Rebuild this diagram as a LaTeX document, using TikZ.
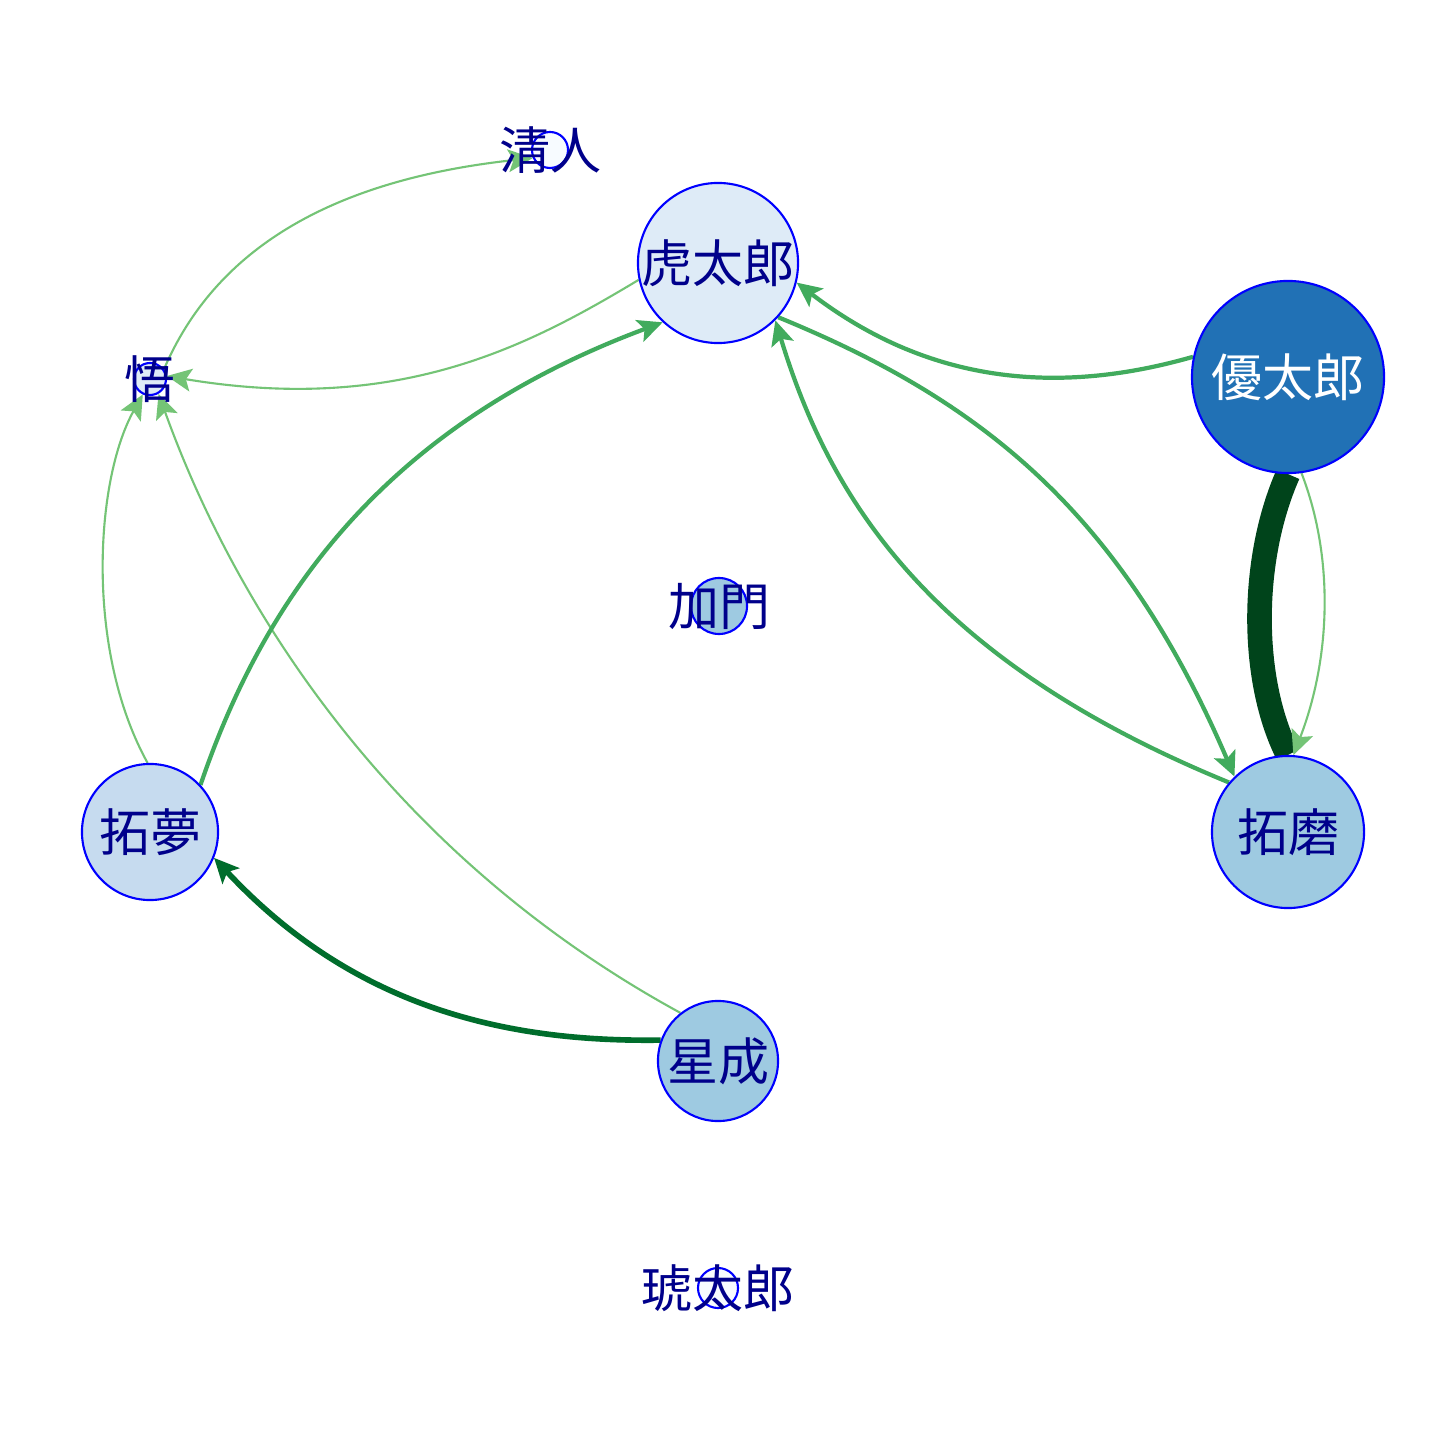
\documentclass[tikz,border=0pt]{standalone}
\usepackage{fontspec}
\newfontfamily\cjk{Noto Sans CJK JP}
\usetikzlibrary{arrows.meta,backgrounds}

\definecolor{navytext}{RGB}{0,0,139}
\definecolor{fillA}{RGB}{247,251,255}
\definecolor{fillB}{RGB}{222,235,247}
\definecolor{fillC}{RGB}{198,219,239}
\definecolor{fillD}{RGB}{158,202,225}
\definecolor{fillE}{RGB}{33,113,181}
\definecolor{edgeA}{RGB}{116,196,118}
\definecolor{edgeB}{RGB}{65,171,93}
\definecolor{edgeC}{RGB}{0,109,44}
\definecolor{edgeD}{RGB}{0,68,27}

\begin{document}
\begin{tikzpicture}[x=0.01cm, y=-0.01cm,
    vtx/.style={circle, draw=blue, line width=0.6pt, inner sep=0pt},
    lbl/.style={text=navytext, font=\cjk\fontsize{14.5}{16}\selectfont},
    tip/.style={-{Stealth[length=7pt, width=6.5pt, inset=1.5pt]}},
    lite/.style={tip, draw=edgeA, line width=0.6pt},
    mid/.style={tip, draw=edgeB, line width=1.2pt},
    dark/.style={tip, draw=edgeC, line width=1.6pt}]

    \useasboundingbox (0,0) rectangle (1440,1440);

    \node [vtx, fill=fillA, minimum size=0.36cm, label={[lbl]center:清人}] (kiyoto) at (550,150) {};
    \node [vtx, fill=fillB, minimum size=1.6cm, label={[lbl]center:虎太郎}] (kotaro) at (718,263) {};
    \node [vtx, fill=fillB, minimum size=0.32cm, label={[lbl]center:悟}] (satoru) at (150,379) {};
    \node [vtx, fill=fillE, minimum size=1.92cm, label={[lbl, text=white]center:優太郎}] (yutaro) at (1288,377) {};
    \node [vtx, fill=fillD, minimum size=0.56cm, label={[lbl]center:加門}] (kamon) at (719,606) {};
    \node [vtx, fill=fillC, minimum size=1.36cm, label={[lbl]center:拓夢}] (takumu) at (150,832) {};
    \node [vtx, fill=fillD, minimum size=1.52cm, label={[lbl]center:拓磨}] (takuma) at (1288,832) {};
    \node [vtx, fill=fillD, minimum size=1.2cm, label={[lbl]center:星成}] (sena) at (718,1061) {};
    \node [vtx, fill=fillA, minimum size=0.4cm, label={[lbl]center:琥太郎}] (kohtaro) at (718,1288) {};

    \begin{pgfonlayer}{background}
    \fill [white] (0,0) rectangle (1440,1440);
    \draw [lite] (satoru.35) .. controls (215,250) and (330,180) .. (kiyoto.205);
    \draw [lite] (kotaro.192) .. controls (530,345) and (400,415) .. (satoru.10);
    \draw [lite] (takumu.92) .. controls (85,650) and (95,480) .. (satoru.245);
    \draw [lite] (sena.128) .. controls (400,860) and (240,620) .. (satoru.300);
    \draw [mid] (takumu.43) .. controls (270,580) and (400,420) .. (kotaro.227);
    \draw [mid] (yutaro.168) .. controls (1060,395) and (930,385) .. (kotaro.-14);
    \draw [mid] (takuma.140) .. controls (930,660) and (830,500) .. (kotaro.-45);
    \draw [mid] (kotaro.-42) .. controls (980,400) and (1120,510) .. (takuma.134);
    \draw [draw=edgeD, line width=7pt] (yutaro.-90) .. controls (1250,560) and (1250,680) .. (takuma.90);
    \draw [lite] (yutaro.-82) .. controls (1335,560) and (1330,660) .. (takuma.86);
    \draw [dark] (sena.160) .. controls (520,1042) and (360,1015) .. (takumu.-22);
    \end{pgfonlayer}
\end{tikzpicture}
\end{document}
